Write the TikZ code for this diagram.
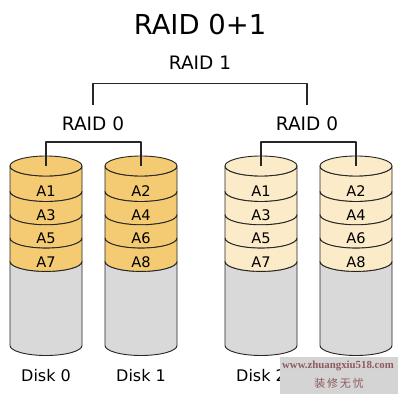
\documentclass[tikz,border=0pt]{standalone}
\usepackage{fontspec}
\setmainfont{DejaVu Sans}
\newfontfamily\cjk{Noto Sans CJK SC}
\newfontfamily\wmfont{Liberation Serif}
\usetikzlibrary{positioning}
\definecolor{stripeA}{HTML}{F4CB72}
\definecolor{stripeB}{HTML}{FBEBC8}
\definecolor{diskgray}{HTML}{D9D9D9}
\definecolor{wmgray}{HTML}{D4D4D4}
\definecolor{wmred}{HTML}{8E5A5C}

\begin{document}
\begin{tikzpicture}[x=1pt, y=1pt, line join=round]

        \tikzstyle{title}=[font=\fontsize{27.4}{30}\selectfont, anchor=base]
        \tikzstyle{level}=[font=\fontsize{18.5}{22}\selectfont, anchor=base]
        \tikzstyle{block}=[font=\fontsize{14.6}{17}\selectfont, inner sep=0pt]
        \tikzstyle{disklabel}=[font=\fontsize{16}{19}\selectfont, anchor=base]
        \tikzstyle{band}=[draw=black!85, line width=0.9pt]
        \tikzstyle{link}=[draw=black!85, line width=1.2pt]

        \useasboundingbox (0,0) rectangle (400,400);

        \node[title] (title)  at (200,365) {RAID 0+1};
        \node[level] (raid1)  at (200,330) {RAID 1};
        \node[level] (raid0l) at (93,269)  {RAID 0};
        \node[level] (raid0r) at (307,269) {RAID 0};

        % four disks, grey body first, then the stripes, then the lid
        \foreach \name/\cx/\col/\a/\b/\c/\d in {d0/46/stripeA/A1/A3/A5/A7, d1/141/stripeA/A2/A4/A6/A8,
                                                d2/261/stripeB/A1/A3/A5/A7, d3/356/stripeB/A2/A4/A6/A8}
        {
          \filldraw[band, fill=diskgray] (\cx-36,138.6) -- (\cx-36,54.5)
            arc[start angle=180, end angle=360, x radius=36, y radius=10] -- (\cx+36,138.6)
            arc[start angle=0, end angle=-180, x radius=36, y radius=10] -- cycle;
          \foreach \t/\bb/\lab in {234/208.5/\a, 208.5/185.2/\b, 185.2/161.9/\c, 161.9/138.6/\d}
          {
            \filldraw[band, fill=\col] (\cx-36,\t) -- (\cx-36,\bb)
              arc[start angle=180, end angle=360, x radius=36, y radius=10] -- (\cx+36,\t)
              arc[start angle=0, end angle=-180, x radius=36, y radius=10] -- cycle;
            \node[block] (\name-\lab) at (\cx,{(\t+\bb)/2-12}) {\lab};
          }
          \filldraw[band, fill=\col] (\cx,234) ellipse[x radius=36, y radius=10];
          \coordinate (\name-top) at (\cx,234);
        }

        \node[disklabel] (disk0) at (46,18.3)  {Disk 0};
        \node[disklabel] (disk1) at (141,18.3) {Disk 1};
        \node[disklabel] (disk2) at (261,18.3) {Disk 2};

        \path[link]
        ([yshift=9pt]raid0l.north) |- ([yshift=-9.7pt]raid1.south) -| ([yshift=9pt]raid0r.north)
        (d0-top) -- ++(0,24) -| (d1-top)
        (d2-top) -- ++(0,24) -| (d3-top)
        ;

        % stamp in the corner
        \node[fill=wmgray, minimum width=118pt, minimum height=37pt, inner sep=0pt, anchor=north west] (stamp) at (280,43) {};
        \node[font=\wmfont\bfseries\fontsize{10.8}{12}\selectfont, text=wmred, anchor=base] (stampurl) at (338,31) {www.zhuangxiu518.com};
        \node[font=\cjk\fontsize{11}{13}\selectfont, text=wmred] (stampname) at (339,17) {装\,修\,无\,忧};
    \end{tikzpicture}
\end{document}
